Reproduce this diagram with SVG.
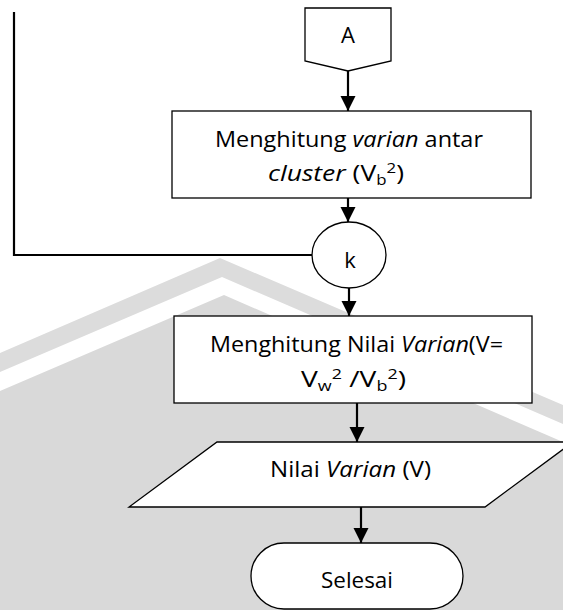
<svg xmlns="http://www.w3.org/2000/svg" width="563" height="610" viewBox="0 0 563 610">
  <style>
    .shape { fill: #ffffff; stroke: #000000; stroke-width: 1.3; }
    .conn { fill: none; stroke: #000000; stroke-width: 2.2; }
    .lbl { font-family: "Open Sans", "Liberation Sans", sans-serif; font-size: 22px; fill: #000000; }
    .it { font-style: italic; }
    .sm { font-size: 14px; }
  </style>
  <defs>
    <marker id="arrow" markerUnits="userSpaceOnUse" markerWidth="16" markerHeight="16" refX="15" refY="7.5" orient="auto">
      <path d="M0,0 L15,7.5 L0,15 Z" fill="#000000"/>
    </marker>
  </defs>

  <g id="background">
    <rect x="0" y="0" width="563" height="610" fill="#ffffff"/>
    <polygon points="0,353 220,258 563,405 563,424 222,277 0,372" fill="#dcdcdc"/>
    <polygon points="0,391 224,295 563,442 563,610 0,610" fill="#d9d9d9"/>
  </g>

  <g id="connectors">
    <polyline class="conn" points="14,12 14,255 312,255"/>
    <line class="conn" x1="348" y1="71" x2="348" y2="111" marker-end="url(#arrow)"/>
    <line class="conn" x1="348" y1="198" x2="348" y2="222" marker-end="url(#arrow)"/>
    <line class="conn" x1="349" y1="288" x2="349" y2="316" marker-end="url(#arrow)"/>
    <line class="conn" x1="357" y1="403" x2="357" y2="442" marker-end="url(#arrow)"/>
    <line class="conn" x1="361" y1="507" x2="361" y2="543" marker-end="url(#arrow)"/>
  </g>

  <g id="node-A">
    <polygon class="shape" points="305,8 391,8 391,61 348,71 305,61"/>
    <text class="lbl" x="348" y="43" text-anchor="middle">A</text>
  </g>

  <g id="node-varian-antar">
    <rect class="shape" x="172" y="111" width="359" height="87"/>
    <text class="lbl" x="349" y="147" text-anchor="middle" textLength="268" lengthAdjust="spacingAndGlyphs">Menghitung <tspan class="it">varian</tspan> antar</text>
    <text class="lbl" x="336" y="181" text-anchor="middle" textLength="136" lengthAdjust="spacingAndGlyphs"><tspan class="it">cluster</tspan> (V<tspan class="sm" dy="4">b</tspan><tspan class="sm" dy="-12">2</tspan><tspan dy="8">)</tspan></text>
  </g>

  <g id="node-k">
    <ellipse class="shape" cx="349" cy="255" rx="37" ry="33"/>
    <text class="lbl" x="350" y="268" text-anchor="middle">k</text>
  </g>

  <g id="node-nilai-varian">
    <rect class="shape" x="174" y="316" width="358" height="87"/>
    <text class="lbl" x="356.5" y="352" text-anchor="middle" textLength="293" lengthAdjust="spacingAndGlyphs">Menghitung Nilai <tspan class="it">Varian</tspan>(V=</text>
    <text class="lbl" x="353.5" y="387" text-anchor="middle" textLength="105" lengthAdjust="spacingAndGlyphs">V<tspan class="sm" dy="4">w</tspan><tspan class="sm" dy="-12">2</tspan><tspan dy="8"> /V</tspan><tspan class="sm" dy="4">b</tspan><tspan class="sm" dy="-12">2</tspan><tspan dy="8">)</tspan></text>
  </g>

  <g id="node-output">
    <polygon class="shape" points="217,442 573,442 485,507 129,507"/>
    <text class="lbl" x="350.5" y="477" text-anchor="middle" textLength="161" lengthAdjust="spacingAndGlyphs">Nilai <tspan class="it">Varian</tspan> (V)</text>
  </g>

  <g id="node-selesai">
    <rect class="shape" x="251" y="543" width="212" height="66" rx="33" ry="33"/>
    <text class="lbl" x="357" y="588" text-anchor="middle" textLength="72" lengthAdjust="spacingAndGlyphs">Selesai</text>
  </g>
</svg>
